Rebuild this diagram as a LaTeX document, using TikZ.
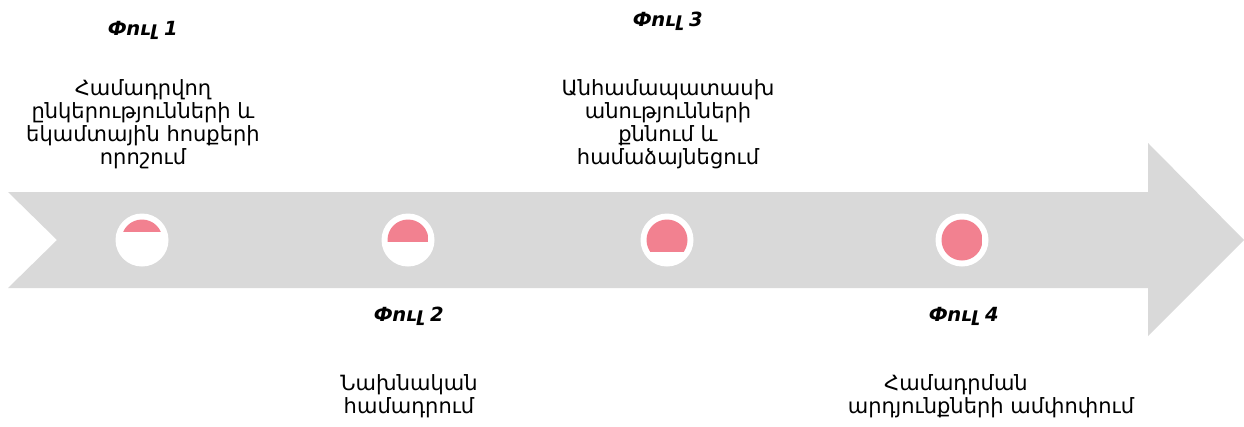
\documentclass[tikz,border=0pt]{standalone}
\usepackage{fontspec}
\setmainfont{DejaVu Sans}
\usetikzlibrary{positioning}
\definecolor{arrowgrey}{HTML}{D9D9D9}
\definecolor{phasepink}{HTML}{F28190}

\begin{document}
\begin{tikzpicture}[x=1pt, y=-1pt, every node/.style={font=\fontsize{21}{23}\selectfont}, phase/.style={font=\fontsize{19.5}{23}\selectfont\bfseries\itshape}, desc/.style={align=center, anchor=north}, ring/.style={circle, fill=white, minimum size=53pt, inner sep=0pt}]
\useasboundingbox (0,0) rectangle (1244,426);
% timeline arrow
\fill[arrowgrey] (8,192) -- (1148,192) -- (1148,143) -- (1244,240) -- (1148,336) -- (1148,288) -- (8,288) -- (57,240) -- cycle;
% progress markers
\foreach \cx/\lvl [count=\i] in {142/232, 408/242, 667/252, 962/262} {
  \node[ring] (ring\i) at (\cx,240) {};
  \begin{scope}
    \clip (ring\i.center) circle (20.5);
    \fill[phasepink] (\cx-21,219) rectangle (\cx+21,\lvl);
  \end{scope}
}
% phase titles
\node[phase] (title1) at (143,30) {Փուլ 1};
\node[phase] (title2) at (409,316) {Փուլ 2};
\node[phase] (title3) at (668,21) {Փուլ 3};
\node[phase] (title4) at (964,316) {Փուլ 4};
% phase descriptions
\node[desc] (text1) at (143,76) {Համադրվող\\ընկերությունների և\\եկամտային հոսքերի\\որոշում};
\node[desc] (text2) at (409,371) {Նախնական\\համադրում};
\node[desc] (text3) at (668,76) {Անհամապատասխ\\անությունների\\քննում և\\համաձայնեցում};
\node[desc] (text4) at (991,371) {Համադրման\hspace*{70pt}\\արդյունքների ամփոփում};
\end{tikzpicture}
\end{document}
